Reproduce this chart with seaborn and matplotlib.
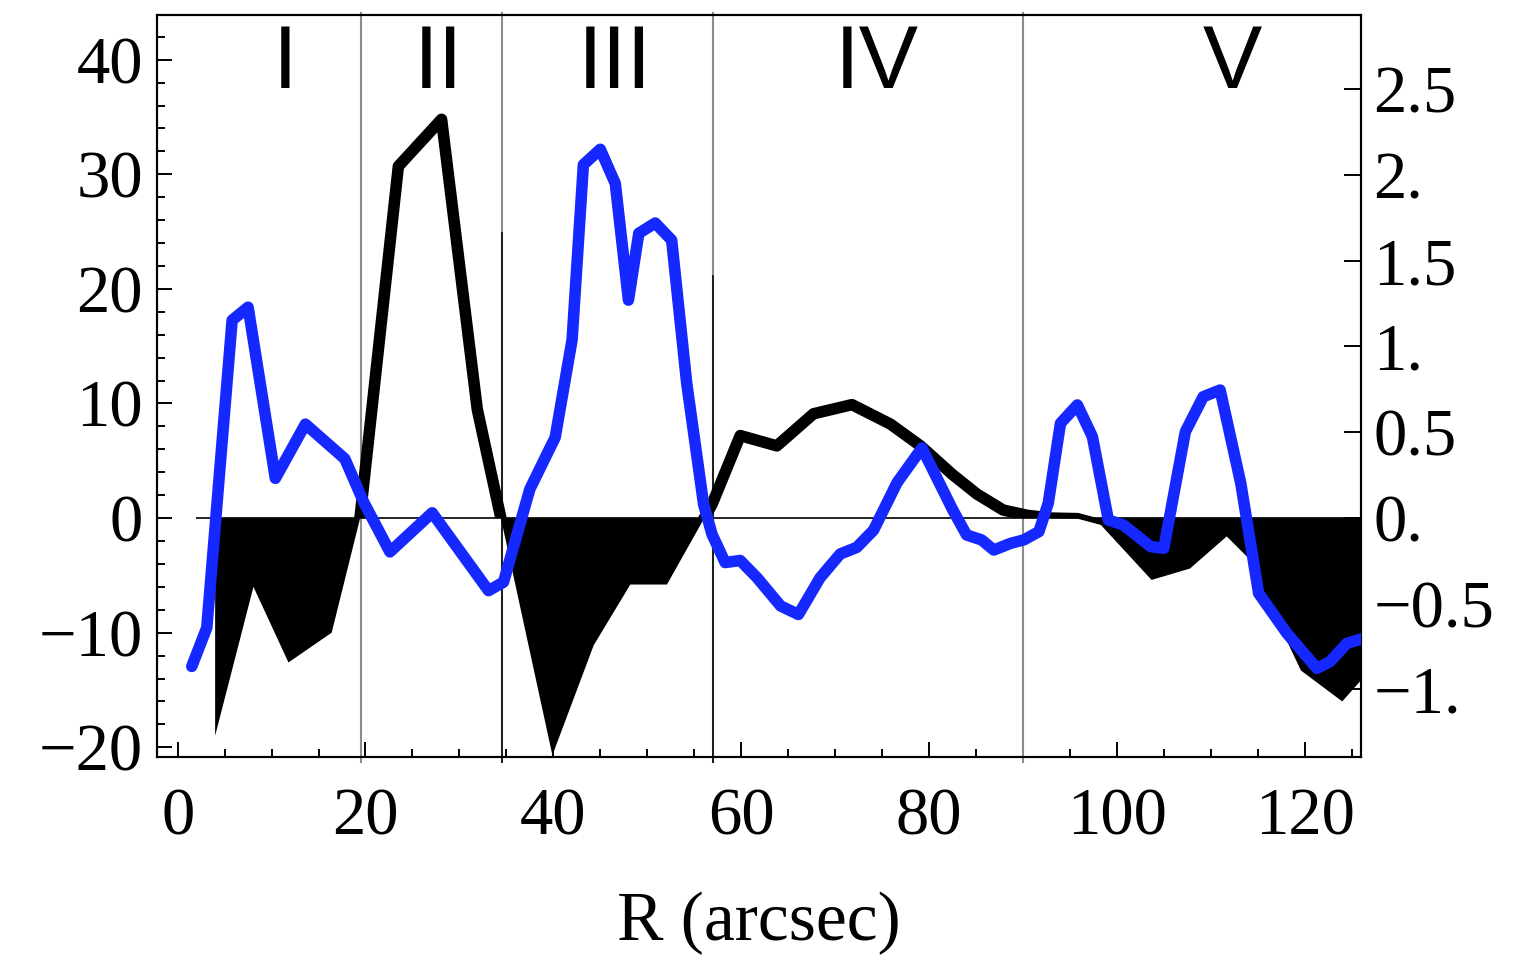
import numpy as np
import pandas as pd
import matplotlib
matplotlib.use("Agg")
import matplotlib.pyplot as plt
import seaborn as sns
from matplotlib.ticker import MultipleLocator, NullLocator
from matplotlib.transforms import Bbox, TransformedBbox

# ---------------- data ----------------
black_r = [3.99, 8.07, 11.8, 16.4, 19.4, 23.5, 28.1, 31.9, 39.9, 44.3, 48.2, 52.1,
           56.9, 59.9, 63.8, 67.7, 71.8, 75.9, 79.1, 82.5, 85.1, 87.9, 90.4, 92.9,
           95.8, 98.3, 103.7, 107.8, 111.7, 113.9, 119.6, 124.0, 126.5]
black_v = [-19.0, -6.0, -12.6, -10.0, -0.1, 30.7, 34.8, 9.5, -20.7, -11.1, -5.8, -5.8,
           1.2, 7.2, 6.3, 9.1, 9.9, 8.2, 6.3, 3.8, 2.1, 0.7, 0.25, 0.0,
           -0.05, -0.6, -5.4, -4.4, -1.6, -3.4, -13.3, -16.0, -13.7]

blue_r = [1.5, 3.1, 5.8, 7.5, 10.4, 13.6, 15.7, 17.8, 19.8, 22.6, 27.1, 33.1, 34.7,
          37.5, 40.2, 42.0, 43.2, 45.0, 46.6, 48.0, 49.1, 50.85, 52.6, 54.2, 56.0,
          56.9, 58.3, 59.9, 61.7, 64.2, 66.1, 68.4, 70.55, 72.3, 74.1, 76.6, 79.25,
          82.5, 84.0, 85.6, 86.9, 88.7, 90.1, 91.7, 92.7, 94.0, 95.8, 97.4, 99.1,
          100.7, 103.6, 105.0, 107.3, 109.2, 111.0, 113.2, 115.1, 118.1, 121.3,
          122.7, 124.5, 126.4]
blue_v = [-0.866, -0.64, 1.153, 1.229, 0.231, 0.547, 0.446, 0.345, 0.093, -0.198, 0.030,
          -0.424, -0.374, 0.168, 0.47, 1.04, 2.06, 2.15, 1.95, 1.27, 1.66, 1.72, 1.62,
          0.787, 0.08, -0.096, -0.26, -0.248, -0.349, -0.513, -0.563, -0.349, -0.21,
          -0.172, -0.071, 0.206, 0.408, 0.05, -0.099, -0.128, -0.187, -0.148, -0.128,
          -0.08, 0.086, 0.552, 0.659, 0.474, -0.012, -0.041, -0.167, -0.177, 0.503,
          0.707, 0.746, 0.202, -0.439, -0.672, -0.877, -0.838, -0.731, -0.70]

x_ticks = [0, 20, 40, 60, 80, 100, 120]
left_ticks = [-20, -10, 0, 10, 20, 30, 40]
left_labels = ["\u221220", "\u221210", "0", "10", "20", "30", "40"]
right_ticks = [-1.0, -0.5, 0.0, 0.5, 1.0, 1.5, 2.0, 2.5]
right_labels = ["\u22121.", "\u22120.5", "0.", "0.5", "1.", "1.5", "2.", "2.5"]

region_names = ["I", "II", "III", "IV", "V"]
region_label_r = [11.4, 27.8, 46.6, 74.4, 112.3]
region_bounds = [19.5, 34.5, 57.0, 90.0]
dark_bounds = [34.5, 57.0]
dark_bound_tops = [25.0, 21.2]

x_label = "R (arcsec)"

# ---------------- style ----------------
BLUE = "#1428ff"
sns.set_style("ticks")
plt.rcParams["font.family"] = ["Liberation Serif", "DejaVu Serif"]
plt.rcParams["axes.linewidth"] = 1.5
plt.rcParams["text.color"] = "black"
plt.rcParams["axes.labelcolor"] = "black"

fig = plt.figure(figsize=(15.31, 9.56), dpi=100)
ax = fig.add_axes([157 / 1531, 1 - 757 / 956, 1204 / 1531, 742 / 956])
ax2 = ax.twinx()

XLIM = (-2.2, 126.0)
YLIM = (-20.85, 43.9)
YLIM2 = (-1.394, 2.933)
ax.set_xlim(*XLIM)
ax.set_ylim(*YLIM)
ax2.set_ylim(*YLIM2)

black_df = pd.DataFrame({"R": black_r, "v": black_v})
blue_df = pd.DataFrame({"R": blue_r, "v": blue_v})

LW = 8.3

# region boundaries
ax.vlines(region_bounds, -21.4, 44.15, colors="#8c8c8c", lw=1.5,
          clip_on=False, zorder=1.2)
ax.vlines(dark_bounds, -21.4, dark_bound_tops, colors="black", lw=1.1,
          clip_on=False, zorder=1.3)

# filled negative part of black curve
bv = np.asarray(black_v)
ax.fill_between(black_df["R"], black_df["v"], 0, where=bv < 0, interpolate=True,
                color="black", lw=0, zorder=2)
# zero axis line
ax.hlines(0, 1.9, XLIM[1], colors="black", lw=1.2, zorder=2.5)

# black line (visible only above zero)
sns.lineplot(data=black_df, x="R", y="v", ax=ax, color="black", lw=LW,
             estimator=None, sort=False, zorder=3)
bl = ax.lines[-1]
bl.set_clip_box(TransformedBbox(Bbox([[XLIM[0], 0], [XLIM[1], YLIM[1]]]), ax.transData))

# blue line on the right axis
sns.lineplot(data=blue_df, x="R", y="v", ax=ax2, color=BLUE, lw=LW,
             estimator=None, sort=False, zorder=4)

for name, r in zip(region_names, region_label_r):
    ax.text(r, 37.5, name, ha="center", va="baseline", fontsize=64,
            family=["Liberation Sans", "DejaVu Sans"], color="black", zorder=5)

# ticks
ax.set_xticks(x_ticks)
ax.xaxis.set_minor_locator(MultipleLocator(5))
ax.set_yticks(left_ticks, left_labels)
ax.yaxis.set_minor_locator(MultipleLocator(2))
ax.tick_params(which="both", direction="in", top=False, right=False, width=1.4,
               labelsize=48, colors="black")
ax.tick_params(which="major", length=11)
ax.tick_params(which="minor", length=6)
ax.tick_params(axis="y", pad=10)
ax.tick_params(axis="x", pad=22)

ax2.set_yticks(right_ticks, right_labels)
ax2.yaxis.set_minor_locator(NullLocator())
ax2.tick_params(axis="y", direction="in", length=12, width=1.4, labelsize=48,
                left=False, right=True, pad=9, colors="black")
ax2.set_ylabel("")
ax2.set_xlabel("")
ax.set_ylabel("")
ax.set_xlabel(x_label, fontsize=50, labelpad=31, color="black")

for a in (ax, ax2):
    for s in a.spines.values():
        s.set_color("black")
        s.set_linewidth(1.5)

fig.savefig("out.png", dpi=100)
